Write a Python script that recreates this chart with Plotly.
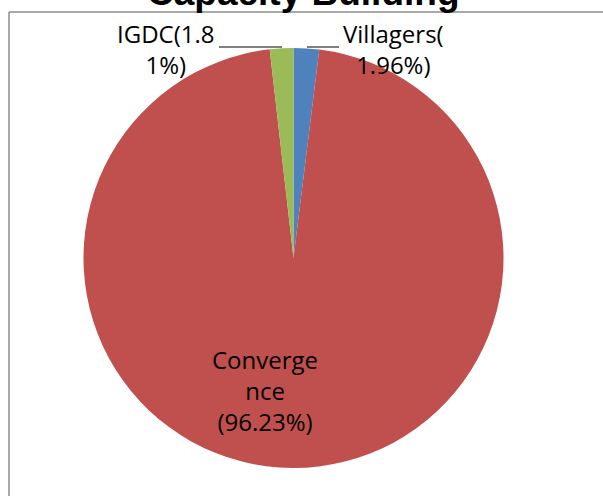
import plotly.graph_objects as go

# data
categories = ["Villagers", "Convergence", "IGDC"]
shares = [1.96, 96.23, 1.81]
colors = ["#4F81BD", "#C0504D", "#9BBB59"]
# labels as wrapped in the original chart
label_text = ["Villagers(<br>1.96%)", "Converge<br>nce<br>(96.23%)", "IGDC(1.8<br>1%)"]

W, H = 603, 496


def px_x(x):
    return x / W


def px_y(y):
    return 1 - y / H


fig = go.Figure()
fig.add_trace(go.Pie(
    labels=categories,
    values=shares,
    sort=False,
    direction="clockwise",
    rotation=0,
    textinfo="none",
    hoverinfo="label+percent",
    marker=dict(colors=colors, line=dict(width=0)),
    domain=dict(x=[px_x(83), px_x(504)], y=[px_y(468), px_y(48)]),
    showlegend=False,
))

label_font = dict(family="Open Sans", size=24, color="black")
label_pos = [(393, 49), (265, 390), (166, 49)]
for txt, (x, y) in zip(label_text, label_pos):
    fig.add_annotation(
        text=txt, x=px_x(x), y=px_y(y), xref="paper", yref="paper",
        showarrow=False, font=label_font, align="center",
        xanchor="center", yanchor="middle",
    )

# title, mostly cut off at the top as in the original
fig.add_annotation(
    text="<b>Capacity Building</b>", x=px_x(303), y=px_y(-8),
    xref="paper", yref="paper", showarrow=False,
    font=dict(family="Liberation Sans", size=37, color="black"),
    xanchor="center", yanchor="middle",
)

shapes = [
    # chart area border (left and top edges visible)
    dict(type="line", x0=px_x(9), x1=px_x(9), y0=-0.1, y1=px_y(12),
         line=dict(color="#8C8C8C", width=1.5)),
    dict(type="line", x0=px_x(9), x1=1.1, y0=px_y(12), y1=px_y(12),
         line=dict(color="#8C8C8C", width=1.5)),
    # leader lines
    dict(type="line", x0=px_x(219), x1=px_x(282), y0=px_y(47), y1=px_y(47),
         line=dict(color="black", width=1)),
    dict(type="line", x0=px_x(307), x1=px_x(339), y0=px_y(47), y1=px_y(47),
         line=dict(color="black", width=1)),
]

fig.update_layout(
    width=W,
    height=H,
    margin=dict(l=0, r=0, t=0, b=0),
    paper_bgcolor="white",
    plot_bgcolor="white",
    shapes=shapes,
)

fig.write_html(
    "out.html",
    config={"displayModeBar": False},
    post_script="document.body.style.margin = '0';",
)
